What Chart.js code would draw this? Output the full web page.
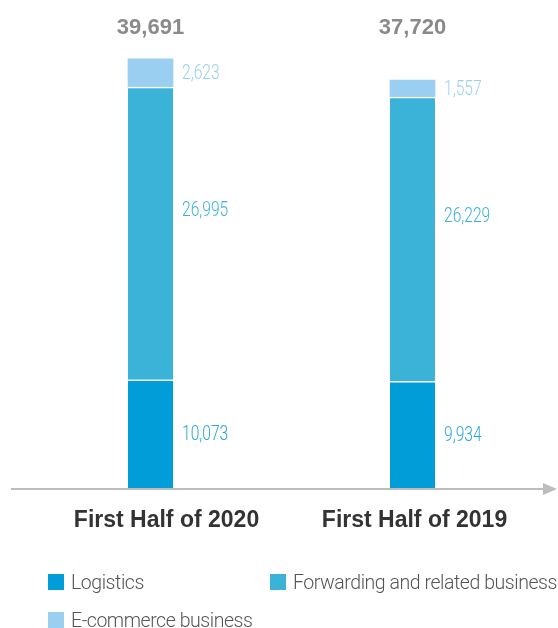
<!DOCTYPE html>
<html>
<head>
<meta charset="utf-8">
<script src="https://cdn.jsdelivr.net/npm/chart.js@4/dist/chart.umd.min.js"></script>
<style>
  body { margin: 0; background: #fff; }
  #wrap { position: relative; width: 558px; height: 628px; overflow: hidden; }
  #legend { position: absolute; left: 0; top: 0; width: 558px; height: 628px; pointer-events: none;
            font-family: Roboto, "Noto Sans", sans-serif; font-weight: 300; font-size: 19.5px;
            color: #555; letter-spacing: -0.45px; }
  .item { position: absolute; display: flex; align-items: center; white-space: nowrap; }
  .box { width: 16px; height: 16px; margin-right: 7px; }
</style>
</head>
<body>
<div id="wrap">
  <canvas id="chart" width="558" height="628"></canvas>
  <div id="legend"></div>
</div>
<script>
// ----------- Data -----------
const categories = ["First Half of 2020", "First Half of 2019"];
const logistics = [10073, 9934];
const forwarding = [26995, 26229];
const ecommerce = [2623, 1557];

const seriesNames = ["Logistics", "Forwarding and related business", "E-commerce business"];
const colors = ["#009dd9", "#3bb2d8", "#9acff2"];
const labelColors = ["#2aa6dc", "#3bb2d8", "#9dd0f0"];
const labelPos = [0.5, 0.42, 0.5];   // where the value label sits inside a segment
const catOffset = [16, 2];           // category labels are not quite centred on the bars

const totals = categories.map((c, i) => logistics[i] + forwarding[i] + ecommerce[i]);

// ----------- Plugins -----------
const decor = {
    id: "decor",
    afterDatasetsDraw(chart) {
        const ctx = chart.ctx;
        const y0 = chart.scales.y.getPixelForValue(0);

        // axis with arrow
        ctx.save();
        ctx.strokeStyle = "#bdbdbd";
        ctx.lineWidth = 2;
        ctx.beginPath();
        ctx.moveTo(11, y0);
        ctx.lineTo(546, y0);
        ctx.stroke();
        ctx.fillStyle = "#bdbdbd";
        ctx.beginPath();
        ctx.moveTo(543, y0 - 6);
        ctx.lineTo(557, y0);
        ctx.lineTo(543, y0 + 6);
        ctx.closePath();
        ctx.fill();

        // value labels next to each segment
        chart.data.datasets.forEach((ds, di) => {
            chart.getDatasetMeta(di).data.forEach((bar, i) => {
                const p = bar.getProps(["x", "y", "base", "width"], true);
                const lx = p.x + p.width / 2 + 9;
                const ly = p.y + (p.base - p.y) * labelPos[di];
                ctx.save();
                ctx.translate(lx, ly);
                ctx.scale(0.78, 1);
                ctx.fillStyle = labelColors[di];
                ctx.font = "300 20px Roboto";
                ctx.textBaseline = "middle";
                ctx.textAlign = "left";
                ctx.fillText(ds.data[i].toLocaleString("en-US"), 0, 1);
                ctx.restore();
            });
        });

        // totals and category names
        const xs = chart.scales.x;
        categories.forEach((c, i) => {
            const cx = xs.getPixelForValue(i);
            ctx.fillStyle = "#8a8a8a";
            ctx.font = "bold 22px 'Liberation Sans'";
            ctx.textAlign = "center";
            ctx.textBaseline = "alphabetic";
            ctx.fillText(totals[i].toLocaleString("en-US"), cx, 34);

            ctx.fillStyle = "#333";
            ctx.font = "bold 23px 'Liberation Sans'";
            ctx.fillText(c, cx + catOffset[i], 527);
        });
        ctx.restore();
    }
};

// ----------- Chart -----------
const seriesData = [logistics, forwarding, ecommerce];

new Chart(document.getElementById("chart"), {
    type: "bar",
    data: {
        labels: categories,
        datasets: seriesData.map((d, i) => ({
            label: seriesNames[i],
            data: d,
            backgroundColor: colors[i],
            borderColor: "#ffffff",
            borderWidth: i < 2 ? { top: 1.5, left: 0, right: 0, bottom: 0 } : 0,
            borderSkipped: false,
            barThickness: 45
        }))
    },
    options: {
        responsive: false,
        animation: false,
        layout: { padding: { left: 19.5, right: 14.5, top: 12, bottom: 139 } },
        plugins: { legend: { display: false }, tooltip: { enabled: false } },
        scales: {
            x: { stacked: true, display: false },
            y: { stacked: true, display: false, min: 0, max: 44000 }
        }
    },
    plugins: [decor]
});

// ----------- Legend ----------
const legendSpots = [[48, 574], [270, 574], [48, 612]];
const legend = document.getElementById("legend");
seriesNames.forEach((name, i) => {
    const it = document.createElement("div");
    it.className = "item";
    it.style.left = legendSpots[i][0] + "px";
    it.style.top = (legendSpots[i][1] - 2) + "px";
    it.style.height = "20px";
    it.innerHTML = '<div class="box" style="background:' + colors[i] + '"></div><span>' + name + '</span>';
    legend.appendChild(it);
});
</script>
</body>
</html>
